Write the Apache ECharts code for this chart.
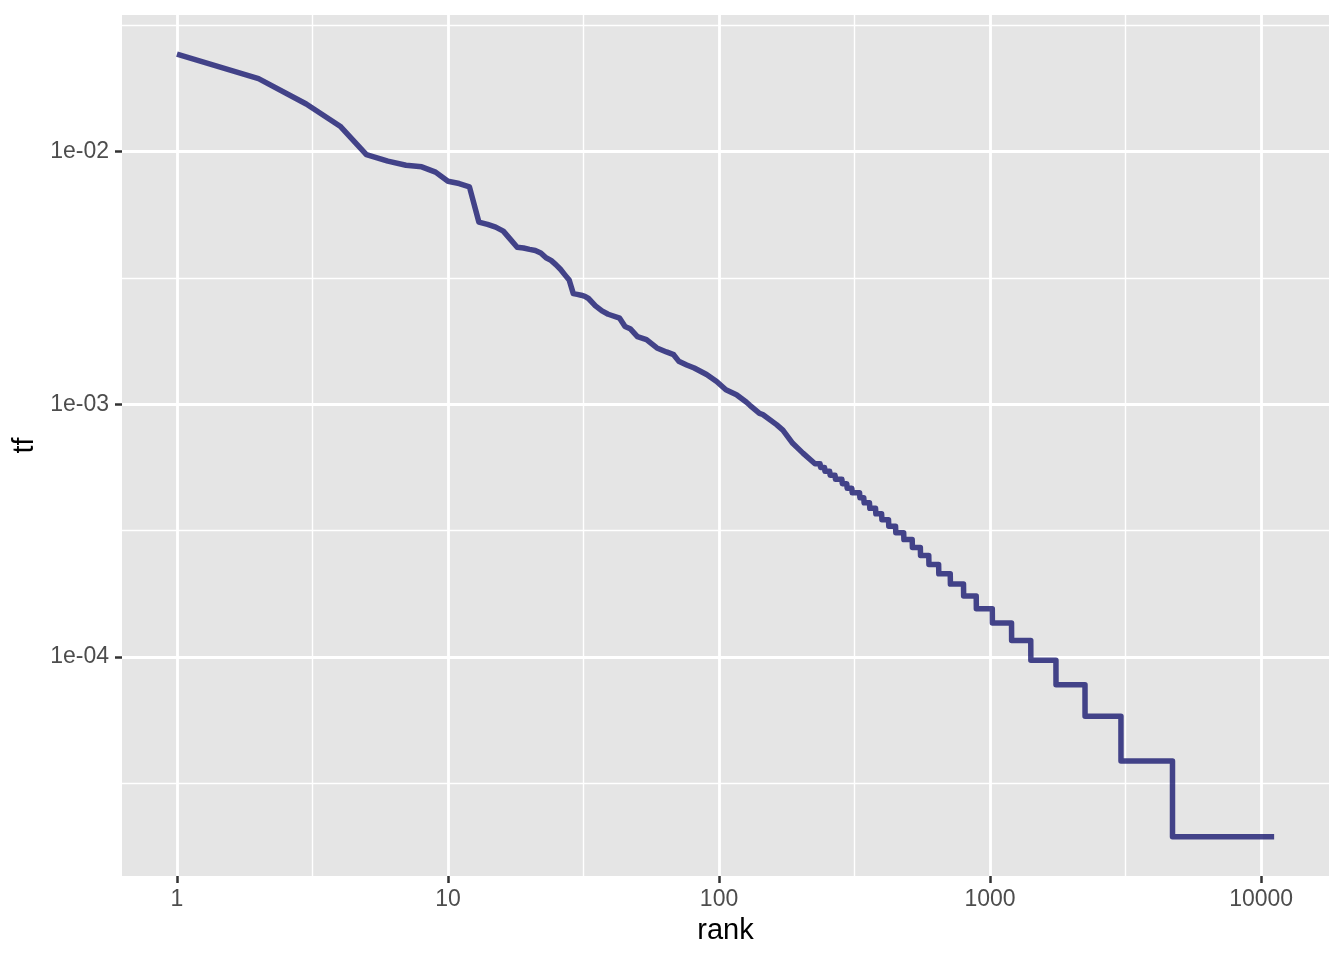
<!DOCTYPE html>
<html>
<head>
<meta charset="utf-8">
<script src="https://cdn.jsdelivr.net/npm/echarts@6/dist/echarts.min.js"></script>
<style>
html,body{margin:0;padding:0;background:#ffffff;}
#chart{width:1344px;height:960px;}
</style>
</head>
<body>
<div id="chart"></div>
<script>
// ---- data ----
const rank = [1,2,3,4,5,6,7,8,9,10,11,12,13,14,15,16,17,18,19,20,21,22,23,24,25,26,27,28,29,30,31,32,33,
  35,37,39,43,45,47,50,54,59,64,68,71,76,81,90,98,106,116,126,130,141,145,163,172,187,204,
  226,236,237,245,246,256,257,268,269,284,285,296,297,309,310,330,
  331,342,343,359,360,378,379,398,399,422,423,448,449,480,481,516,517,553,554,594,595,646,647,713,714,798,
  799,889,890,1019,1020,1200,1201,1413,1414,1750,1751,2240,2241,3040,3041,4710,4711,11170];
const tf = [0.0243,0.01943,0.01543,0.0126,0.00973,0.00916,0.00883,0.0087,0.00829,0.00763,0.00747,0.00725,
  0.00526,0.00515,0.00502,0.00484,0.00449,0.00418,0.00415,0.0041,0.00406,0.00397,0.0038,0.00371,0.00357,
  0.00342,0.00325,0.0031,0.00274,0.00272,0.0027,0.00267,0.00262,
  0.00245,0.00234,0.00227,0.00219,0.00203,0.00199,0.00185,0.0018,0.00167,0.00161,0.00157,0.00148,0.00143,
  0.00139,0.00131,0.00123,0.00114,0.00109,0.00102,0.00099,0.00092,0.00091,0.00083,0.00079,0.0007,0.00064,
  0.000581,0.000581,0.000562,0.000562,0.000542,0.000542,0.000523,0.000523,0.000504,0.000504,
  0.000484,0.000484,0.000465,0.000465,0.000446,0.000446,
  0.000426,0.000426,0.000407,0.000407,0.000387,0.000387,0.000368,0.000368,0.000349,0.000349,0.000329,0.000329,
  0.00031,0.00031,0.000291,0.000291,0.000271,0.000271,0.000252,0.000252,0.000232,0.000232,0.000213,0.000213,
  0.000194,0.000194,0.000174,0.000174,0.000155,0.000155,0.000136,0.000136,0.000116,0.000116,
  0.0000968,0.0000968,0.0000775,0.0000775,0.0000581,0.0000581,0.0000387,0.0000387,0.0000194,0.0000194];

const xTickValues = [1,10,100,1000,10000];
const xTickLabels = ['1','10','100','1000','10000'];
const xMinorValues = [3.1623,31.623,316.23,3162.3];
const yTickValues = [1e-4,1e-3,1e-2];
const yTickLabels = ['1e-04','1e-03','1e-02'];
const yMinorValues = [3.1623e-5,3.1623e-4,3.1623e-3,3.1623e-2];
const xLimits = [0.6271, 17802];     // ggplot expanded range
const yLimits = [1.356e-5, 0.03472];

// ---- chart ----
const L = Math.log10;
const FONT = '"Liberation Sans", Arial, Helvetica, sans-serif';
const xMajor = xTickValues.map(L), xMinor = xMinorValues.map(L);
const yMajor = yTickValues.map(L), yMinor = yMinorValues.map(L);
function fmt(vals, labels){
  return function(v){
    for (let i=0;i<vals.length;i++) if (Math.abs(vals[i]-v) < 1e-6) return labels[i];
    return '';
  };
}
const chart = echarts.init(document.getElementById('chart'), null, {renderer:'canvas'});
chart.setOption({
  animation:false,
  backgroundColor:'#ffffff',
  grid:{left:122,right:15,top:15,bottom:84,show:true,backgroundColor:'#E5E5E5',borderWidth:0},
  xAxis:[{
    type:'value', min:L(xLimits[0]), max:L(xLimits[1]), position:'bottom',
    axisLine:{show:false,onZero:false},
    axisTick:{show:true,customValues:xMajor,length:7,lineStyle:{color:'#333333',width:2.5}},
    axisLabel:{customValues:xMajor,formatter:fmt(xMajor,xTickLabels),margin:12,color:'#4D4D4D',fontSize:23,fontFamily:FONT},
    splitLine:{show:true,lineStyle:{color:'#ffffff',width:2.8}},
    name:'rank',nameLocation:'middle',nameGap:40,
    nameTextStyle:{color:'#000000',fontSize:29,fontFamily:FONT}
  },{
    type:'value', min:L(xLimits[0]), max:L(xLimits[1]), position:'bottom',
    axisLine:{show:false,onZero:false},
    axisTick:{show:false,customValues:xMinor},
    axisLabel:{show:false,customValues:xMinor},
    splitLine:{show:true,lineStyle:{color:'#ffffff',width:1.4}}
  }],
  yAxis:[{
    type:'value', min:L(yLimits[0]), max:L(yLimits[1]), position:'left',
    axisLine:{show:false,onZero:false},
    axisTick:{show:true,customValues:yMajor,length:7,lineStyle:{color:'#333333',width:2.5}},
    axisLabel:{customValues:yMajor,formatter:fmt(yMajor,yTickLabels),margin:13,color:'#4D4D4D',fontSize:23,fontFamily:FONT},
    splitLine:{show:true,lineStyle:{color:'#ffffff',width:2.8}},
    name:'tf',nameLocation:'middle',nameGap:78,
    nameTextStyle:{color:'#000000',fontSize:29,fontFamily:FONT}
  },{
    type:'value', min:L(yLimits[0]), max:L(yLimits[1]), position:'left',
    axisLine:{show:false,onZero:false},
    axisTick:{show:false,customValues:yMinor},
    axisLabel:{show:false,customValues:yMinor},
    splitLine:{show:true,lineStyle:{color:'#ffffff',width:1.4}}
  }],
  series:[{
    type:'line',
    xAxisIndex:0, yAxisIndex:0,
    data: rank.map((r,i)=>[L(r), L(tf[i])]),
    showSymbol:false, symbol:'none',
    lineStyle:{color:'rgba(25,25,112,0.8)',width:5.5,cap:'butt',join:'round'},
    silent:true
  }]
});
</script>
</body>
</html>
